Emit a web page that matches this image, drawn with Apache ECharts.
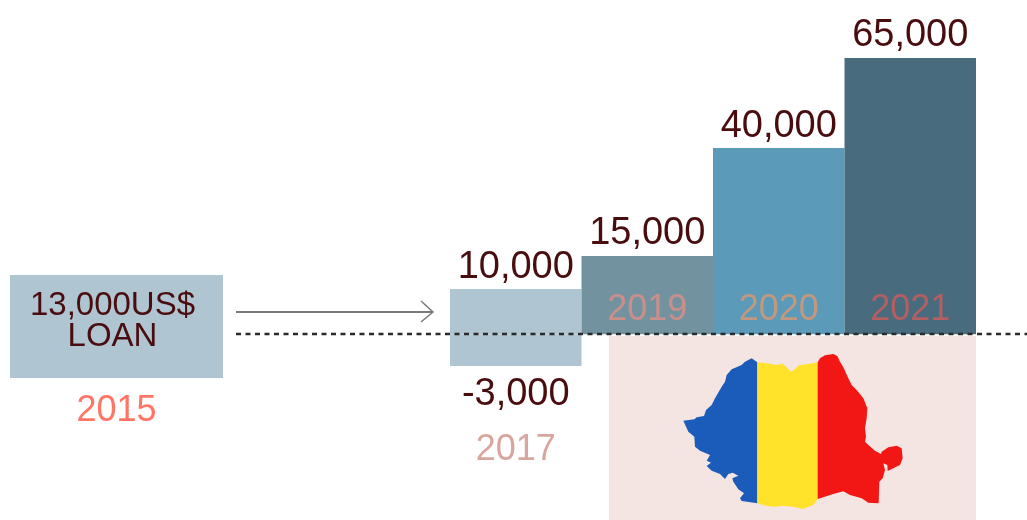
<!DOCTYPE html>
<html>
<head>
<meta charset="utf-8">
<style>html,body{margin:0;padding:0;background:#fff}#c{width:1027px;height:520px}</style>
<script src="https://cdn.jsdelivr.net/npm/echarts@6/dist/echarts.min.js"></script>
</head>
<body>
<div id="c"></div>
<script>
// Years and printed amounts
const years = ['2017', '2019', '2020', '2021'];
const amountLabels = ['10,000', '15,000', '40,000', '65,000'];
const lossLabel = '-3,000';
const loanYear = '2015';
const loanValue = 13000;
const loanLabel = ['13,000US$', 'LOAN'];
// The source draws its bars out of proportion to the printed amounts,
// so these are the heights, on a scale where the tallest bar = 65,000.
const drawnHeights = [10600, 18400, 43800, 65000];
const drawnLoss = [-7500, null, null, null];
// Romania outline, one ring per flag band (x, y-down units)
const blueBand = [[455,85],[472,97],[472,520],[425,513],[420,505],[432,490],[415,478],[400,455],[397,445],[415,437],[398,428],[385,432],[375,447],[360,432],[335,422],[320,408],[333,398],[320,392],[330,375],[300,362],[285,350],[283,320],[265,305],[250,272],[283,268],[290,262],[312,258],[318,240],[335,225],[345,205],[365,170],[375,155],[380,135],[395,118],[425,105],[435,95]];
const yellowBand = [[472,97],[500,100],[530,105],[548,101],[560,112],[572,125],[582,120],[597,106],[625,102],[653,97],[653,507],[640,525],[607,537],[580,530],[545,527],[525,530],[500,528],[472,520]];
const redBand = [[653,97],[660,85],[675,76],[700,72],[712,78],[720,95],[730,112],[745,145],[755,165],[770,180],[790,205],[802,235],[800,265],[795,295],[798,320],[795,335],[805,345],[825,362],[843,372],[845,365],[865,352],[890,347],[905,355],[908,385],[900,405],[880,415],[863,423],[862,405],[850,400],[855,420],[848,445],[838,455],[836,520],[805,518],[785,505],[750,495],[730,484],[700,492],[665,503],[653,507]];

const FONT = '"Liberation Sans",sans-serif';
const MAROON = '#4a0d0f';
const barColors = ['#afc5d1', '#7292a0', '#5b9ab8', '#486b7d'];
const yearColors = ['#d8a69f', '#c98f8b', '#c2987f', '#b35f61'];

const ring = r => { const p = r.map(q => [q[0], -q[1]]); p.push(p[0]); return [p]; };
const feature = (name, r) => ({ type: 'Feature', properties: { name }, geometry: { type: 'Polygon', coordinates: ring(r) } });
echarts.registerMap('romania', { type: 'FeatureCollection', features: [
  feature('blue', blueBand), feature('yellow', yellowBand), feature('red', redBand)
]});

const chart = echarts.init(document.getElementById('c'), null, { renderer: 'canvas' });
const amountText = { fontFamily: FONT, fontSize: 38, color: MAROON };
chart.setOption({
  animation: false,
  backgroundColor: '#fff',
  grid: [
    { left: 450, width: 526, top: 58, height: 308 },
    { left: 10, width: 213, top: 275, height: 103 }
  ],
  xAxis: [
    { gridIndex: 0, type: 'category', z: 10, data: years, axisLine: { show: false }, axisTick: { show: false },
      axisLabel: { inside: true, margin: 38, verticalAlign: 'bottom', fontFamily: FONT, fontSize: 36,
        formatter: v => v === years[0] ? '' : v,
        color: (v, i) => yearColors[i] } },
    { gridIndex: 1, type: 'category', data: [loanYear], axisLine: { show: false }, axisTick: { show: false },
      axisLabel: { margin: 15, fontFamily: FONT, fontSize: 36, color: '#ff7566' } }
  ],
  yAxis: [
    { gridIndex: 0, type: 'value', min: -7500, max: 65000, show: false },
    { gridIndex: 1, type: 'value', min: 0, max: loanValue, show: false }
  ],
  series: [
    { type: 'bar', xAxisIndex: 0, yAxisIndex: 0, stack: 'a', barWidth: '100%',
      data: drawnHeights.map((v, i) => ({ value: v, itemStyle: { color: barColors[i] } })),
      label: { show: true, position: 'top', distance: 3, ...amountText,
        formatter: p => amountLabels[p.dataIndex] } },
    { type: 'bar', xAxisIndex: 0, yAxisIndex: 0, stack: 'a', barWidth: '100%',
      data: drawnLoss, itemStyle: { color: barColors[0] },
      label: { show: true, position: 'bottom', distance: 4, ...amountText, align: 'center',
        formatter: () => '{a|' + lossLabel + '}\n{b|' + years[0] + '}',
        rich: { a: { fontFamily: FONT, fontSize: 38, color: MAROON, lineHeight: 50 },
                b: { fontFamily: FONT, fontSize: 36, color: yearColors[0], lineHeight: 60 } } } },
    { type: 'bar', xAxisIndex: 1, yAxisIndex: 1, barWidth: '100%',
      data: [loanValue], itemStyle: { color: '#afc5d1' },
      label: { show: true, position: 'inside', ...amountText, fontSize: 33, lineHeight: 31, offset: [-4, -5],
        formatter: loanLabel.join('\n') } },
    { type: 'map', map: 'romania', roam: false, silent: true, aspectScale: 1,
      left: 600, top: 330, width: 400, height: 190,
      boundingCoords: [[0, 0], [1200, -570]],
      label: { show: false }, emphasis: { disabled: true },
      itemStyle: { borderWidth: 0 },
      data: [
        { name: 'blue', itemStyle: { areaColor: '#1b5cba' } },
        { name: 'yellow', itemStyle: { areaColor: '#ffe229' } },
        { name: 'red', itemStyle: { areaColor: '#f21714' } }
      ] }
  ],
  graphic: [
    { type: 'rect', z: 0, shape: { x: 609, y: 336, width: 367, height: 184 }, style: { fill: '#f4e5e3' } },
    { type: 'line', z: 50, shape: { x1: 236, y1: 334, x2: 1027, y2: 334 },
      style: { stroke: '#2b2b2b', lineWidth: 2.5, lineDash: [5, 4.5] } },
    { type: 'line', z: 50, shape: { x1: 236, y1: 312, x2: 432, y2: 312 },
      style: { stroke: '#7a7a7a', lineWidth: 2 } },
    { type: 'polyline', z: 50, shape: { points: [[421, 301], [433, 312], [421, 322]] },
      style: { stroke: '#7a7a7a', lineWidth: 1.5, fill: 'none' } }
  ]
});
</script>
</body>
</html>
